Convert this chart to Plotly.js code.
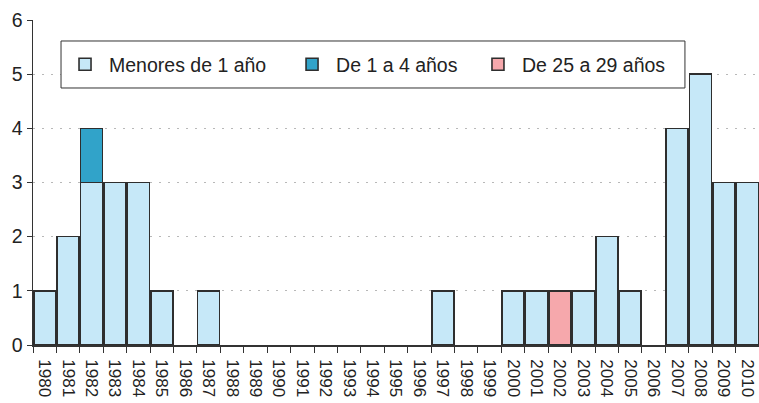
<!DOCTYPE html>
<html>
<head>
<meta charset="utf-8">
<script src="https://cdn.plot.ly/plotly-3.0.1.min.js"></script>
<style>html,body{margin:0;padding:0;background:#fff}#chart{width:759px;height:403px}</style>
</head>
<body>
<div id="chart"></div>
<script>
const years = ["1980","1981","1982","1983","1984","1985","1986","1987","1988","1989","1990","1991","1992","1993","1994","1995","1996","1997","1998","1999","2000","2001","2002","2003","2004","2005","2006","2007","2008","2009","2010"];
const menores1 = [1,2,3,3,3,1,0,1,0,0,0,0,0,0,0,0,0,1,0,0,1,1,0,1,2,1,0,4,5,3,3];
const de1a4 = [0,0,1,0,0,0,0,0,0,0,0,0,0,0,0,0,0,0,0,0,0,0,0,0,0,0,0,0,0,0,0];
const de25a29 = [0,0,0,0,0,0,0,0,0,0,0,0,0,0,0,0,0,0,0,0,0,0,1,0,0,0,0,0,0,0,0];
const seriesNames = ["Menores de 1 año","De 1 a 4 años","De 25 a 29 años"];
const yTicks = [0,1,2,3,4,5,6];

const colors = ["#c6e8f8","#31a3c9","#f6a8ac"];
const legendIds = ["legend","legend2","legend3"];
const data = [menores1, de1a4, de25a29].map((vals, i) => ({
  type: "bar",
  x: years,
  y: vals.map(v => v === 0 ? null : v),
  name: seriesNames[i],
  legend: legendIds[i],
  marker: {color: colors[i], line: {color: "#2e2e2e", width: 1.6}},
  hoverinfo: "x+y+name"
}));

const legendBase = {
  orientation: "h",
  yanchor: "middle", xanchor: "left",
  y: 0.863,
  borderwidth: 0, bgcolor: "rgba(0,0,0,0)",
  font: {size: 19.5, color: "#222"},
  itemwidth: 38
};

const layout = {
  width: 759, height: 403,
  margin: {l: 33, r: 0, t: 20, b: 58},
  barmode: "stack",
  bargap: 0.06,
  paper_bgcolor: "#fff", plot_bgcolor: "#fff",
  font: {family: "Liberation Sans, Arial, sans-serif", size: 17, color: "#222"},
  showlegend: true,
  legend: Object.assign({}, legendBase, {x: 0.0386}),
  legend2: Object.assign({}, legendBase, {x: 0.3513}),
  legend3: Object.assign({}, legendBase, {x: 0.6074}),
  shapes: [{
    type: "rect", xref: "paper", yref: "paper",
    x0: 0.0386, x1: 0.898, y0: 0.7908, y1: 0.9354,
    line: {color: "#333", width: 1}, fillcolor: "#fff", layer: "above"
  }],
  xaxis: {
    type: "category",
    tickangle: 90,
    tickson: "boundaries",
    tickvals: years,
    ticktext: years.map(y => "\u00a0\u00a0" + y),
    ticks: "outside", ticklen: 6, tickcolor: "#333", tickwidth: 1,
    showline: true, linecolor: "#333", linewidth: 1.5,
    showgrid: false,
    tickfont: {size: 17, color: "#222"},
    range: [-0.5, 30.5]
  },
  yaxis: {
    range: [0, 6],
    tickvals: yTicks,
    ticks: "outside", ticklen: 5, tickcolor: "#333",
    showline: true, linecolor: "#333", linewidth: 1.5,
    showgrid: true, gridcolor: "#b8b8b8", griddash: "1.5px,7.5px", gridwidth: 1.2,
    zeroline: false,
    tickfont: {size: 19.5, color: "#222"}
  }
};

Plotly.newPlot("chart", data, layout, {displayModeBar: false, staticPlot: true});
</script>
</body>
</html>
